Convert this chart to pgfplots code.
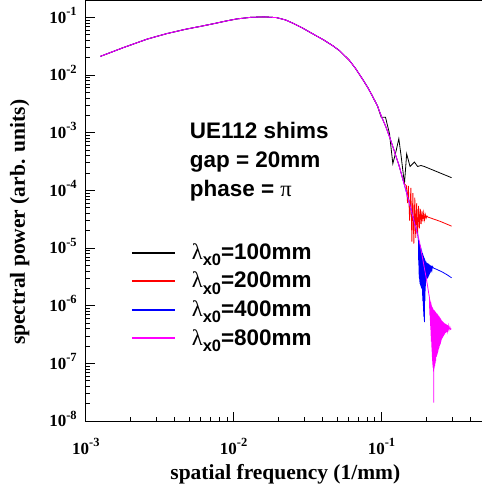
\documentclass[border=0pt]{standalone}
\usepackage{pgfplots}
\pgfplotsset{compat=1.18}
\usepackage{fontspec}
\setmainfont{Liberation Serif}
\newfontfamily\hv{Liberation Sans}
\definecolor{mag}{RGB}{255,0,255}
\definecolor{blu}{RGB}{0,0,255}
\definecolor{rd}{RGB}{255,0,0}
\newcommand{\tl}[1]{10\raisebox{0.45em}{\fontsize{12.5}{12.5}\selectfont #1}}
\newcommand{\lam}[1]{{\rmfamily\mdseries λ}\raisebox{-0.28em}{\fontsize{16.5}{16.5}\selectfont x0}=#1}
\begin{document}
\begin{tikzpicture}
\begin{axis}[name=ax,
  xmode=log, ymode=log,
  scale only axis, width=399.5pt, height=421.7pt,
  xmin=1e-3, xmax=0.5, ymin=1e-8, ymax=0.2,
  axis line style={line width=1.2pt, black},
  xtick={1e-3,1e-2,1e-1},
  xticklabels={\tl{-3},\tl{-2},\tl{-1}},
  ytick={1e-8,1e-7,1e-6,1e-5,1e-4,1e-3,1e-2,1e-1},
  yticklabels={\tl{-8},\tl{-7},\tl{-6},\tl{-5},\tl{-4},\tl{-3},\tl{-2},\tl{-1}},
  minor xtick={0.002,0.003,0.004,0.005,0.006,0.007,0.008,0.009,0.02,0.03,0.04,0.05,0.06,0.07,0.08,0.09,0.2,0.3,0.4},
  minor ytick={2e-8,3e-8,4e-8,5e-8,6e-8,7e-8,8e-8,9e-8,2e-7,3e-7,4e-7,5e-7,6e-7,7e-7,8e-7,9e-7,2e-6,3e-6,4e-6,5e-6,6e-6,7e-6,8e-6,9e-6,2e-5,3e-5,4e-5,5e-5,6e-5,7e-5,8e-5,9e-5,2e-4,3e-4,4e-4,5e-4,6e-4,7e-4,8e-4,9e-4,2e-3,3e-3,4e-3,5e-3,6e-3,7e-3,8e-3,9e-3,2e-2,3e-2,4e-2,5e-2,6e-2,7e-2,8e-2,9e-2},
  tick align=inside, xtick pos=bottom, ytick pos=left,
  major tick length=9pt, minor tick length=4.5pt,
  tick style={line width=0.8pt, black},
  tick label style={font=\fontsize{17}{17}\selectfont\bfseries, inner sep=0pt},
  xticklabel style={anchor=base, yshift=-33pt},
  yticklabel style={anchor=base east, xshift=-9pt, yshift=-5.7pt},
  xlabel={spatial frequency (1/mm)},
  ylabel={spectral power (arb. units)},
  label style={font=\fontsize{21.5}{21.5}\selectfont\bfseries},
  xlabel style={at={(axis description cs:0.5,0)}, anchor=base, yshift=-58pt},
  ylabel style={at={(axis description cs:-0.153,0.472)}, anchor=base},
  legend style={at={(rel axis cs:0.1126,0.423)}, anchor=north west, draw=none, fill=none,
    inner sep=0pt, row sep=0pt, column sep=16pt,
    font=\hv\bfseries\fontsize{22.5}{22.5}\selectfont,
    nodes={inner sep=0pt, text height=16pt, text depth=12.7pt}},
  legend cell align=left,
  legend image code/.code={\draw[#1, line width=2pt] (0pt,5pt) -- (43pt,5pt);},
  every axis plot/.append style={line width=0.8pt},
]
\addplot[black] coordinates {(0.00125,0.021)(0.0018,0.030)(0.0026,0.042)(0.0035,0.052)(0.0047,0.062)(0.006,0.070)(0.0072,0.077)(0.0088,0.086)(0.0105,0.094)(0.013,0.100)(0.016,0.102)(0.0195,0.099)(0.0225,0.090)(0.0252,0.079)(0.029,0.066)(0.0342,0.052)(0.041,0.040)(0.047,0.032)(0.052,0.0265)(0.0608,0.0178)(0.067,0.0128)(0.0744,0.0085)(0.081,0.0060)(0.0873,0.0042)(0.094,0.0029)
(0.0995,0.00186)(0.1064,0.00186)(0.1133,0.00096)(0.1193,0.00029)(0.1257,0.00049)(0.131,0.00079)(0.136,0.00038)(0.143,0.00013)(0.148,0.00043)(0.156,0.00026)(0.167,0.00031)(0.1755,0.00026)(0.185,0.00027)(0.1946,0.00026)(0.298,0.000166)};
\addlegendentry{\lam{100mm}}
\addplot[rd] coordinates {(0.00125,0.021)(0.0018,0.030)(0.0026,0.042)(0.0035,0.052)(0.0047,0.062)(0.006,0.070)(0.0072,0.077)(0.0088,0.086)(0.0105,0.094)(0.013,0.100)(0.016,0.102)(0.0195,0.099)(0.0225,0.090)(0.0252,0.079)(0.029,0.066)(0.0342,0.052)(0.041,0.040)(0.047,0.032)(0.052,0.0265)(0.0608,0.0178)(0.067,0.0128)(0.0744,0.0085)(0.081,0.0060)(0.0873,0.0042)(0.094,0.0029)(0.1,0.0019)(0.1066,0.0013)(0.1133,0.00085)(0.120,0.00055)(0.1257,0.00038)(0.132,0.00026)(0.139,0.00016)
(0.143,0.00013)(0.1475,0.00012)(0.150,0.00006)(0.152,0.00012)(0.155,0.00003)(0.158,0.00011)(0.1605,0.000013)(0.163,0.00009)(0.1655,0.000012)(0.168,0.000075)(0.1705,0.000015)(0.173,0.00006)(0.1755,0.000017)(0.178,0.000054)(0.1805,0.000022)(0.183,0.000048)(0.1855,0.000026)(0.188,0.000044)(0.1905,0.000029)(0.193,0.000041)(0.1955,0.000031)(0.198,0.000038)(0.2005,0.000033)(0.203,0.000036)(0.206,0.0000345)(0.25,0.000029)(0.298,0.000024)};
\addlegendentry{\lam{200mm}}
\addplot[blu] coordinates {(0.00125,0.021)(0.0018,0.030)(0.0026,0.042)(0.0035,0.052)(0.0047,0.062)(0.006,0.070)(0.0072,0.077)(0.0088,0.086)(0.0105,0.094)(0.013,0.100)(0.016,0.102)(0.0195,0.099)(0.0225,0.090)(0.0252,0.079)(0.029,0.066)(0.0342,0.052)(0.041,0.040)(0.047,0.032)(0.052,0.0265)(0.0608,0.0178)(0.067,0.0128)(0.0744,0.0085)(0.081,0.0060)(0.0873,0.0042)(0.094,0.0029)(0.1,0.0019)(0.1066,0.0013)(0.1133,0.00085)(0.120,0.00055)(0.1257,0.00038)(0.132,0.00026)(0.139,0.00016)(0.148,0.000090)(0.158,0.000048)(0.168,0.000026)(0.176,0.000017)
(0.178,1.3e-5)(0.1785,5e-6)(0.179,1.28e-5)(0.1795,3.5e-6)(0.180,1.25e-5)(0.1805,2.9e-6)(0.181,1.2e-5)(0.1815,2.6e-6)(0.182,1.15e-5)(0.1825,2.4e-6)(0.183,1.1e-5)(0.1835,2.3e-6)(0.184,1.05e-5)(0.1845,2.2e-6)(0.185,1.0e-5)(0.1855,2.1e-6)(0.186,9.5e-6)(0.1865,2.0e-6)(0.187,9e-6)(0.1875,2.0e-6)(0.188,8.6e-6)(0.1885,1.9e-6)(0.189,8.2e-6)(0.1895,1.5e-6)(0.190,7.9e-6)(0.1905,1.2e-6)(0.191,7.6e-6)(0.1915,1.0e-6)(0.192,7.3e-6)(0.1925,8e-7)(0.193,7.0e-6)(0.1935,6.5e-7)(0.194,6.8e-6)(0.1945,5.5e-7)(0.195,6.6e-6)(0.1955,5.2e-7)(0.196,6.4e-6)(0.1965,1.2e-6)(0.197,6.2e-6)(0.1975,1.8e-6)(0.198,6.0e-6)(0.1985,2.2e-6)(0.199,5.9e-6)(0.1995,2.5e-6)(0.200,5.8e-6)(0.201,2.7e-6)(0.202,5.6e-6)(0.203,2.9e-6)(0.204,5.5e-6)(0.205,3.0e-6)(0.206,5.4e-6)(0.207,3.1e-6)(0.208,5.3e-6)(0.209,3.3e-6)(0.210,5.2e-6)(0.211,3.5e-6)(0.212,5.1e-6)(0.2135,3.7e-6)(0.215,5.0e-6)(0.2165,3.9e-6)(0.218,4.9e-6)(0.2195,4.2e-6)(0.221,4.8e-6)(0.225,4.5e-6)(0.24,4.2e-6)(0.26,3.8e-6)(0.28,3.4e-6)(0.298,3.05e-6)};
\addlegendentry{\lam{400mm}}
\addplot[mag] coordinates {(0.00125,0.021)(0.0018,0.030)(0.0026,0.042)(0.0035,0.052)(0.0047,0.062)(0.006,0.070)(0.0072,0.077)(0.0088,0.086)(0.0105,0.094)(0.013,0.100)(0.016,0.102)(0.0195,0.099)(0.0225,0.090)(0.0252,0.079)(0.029,0.066)(0.0342,0.052)(0.041,0.040)(0.047,0.032)(0.052,0.0265)(0.0608,0.0178)(0.067,0.0128)(0.0744,0.0085)(0.081,0.0060)(0.0873,0.0042)(0.094,0.0029)(0.1,0.0019)(0.1066,0.0013)(0.1133,0.00085)(0.120,0.00055)(0.1257,0.00038)(0.132,0.00026)(0.139,0.00016)(0.148,0.000090)(0.158,0.000048)(0.168,0.000026)(0.180,0.0000135)(0.190,0.0000065)(0.195,0.0000045)(0.200,0.0000032)(0.205,0.0000022)(0.209,0.0000016)
(0.2110,1.4e-6)(0.2115,9e-7)(0.2120,1.3e-6)(0.2125,7e-7)(0.2130,1.25e-6)(0.2135,5.5e-7)(0.2140,1.2e-6)(0.2145,4.5e-7)(0.2150,1.15e-6)(0.2155,3.8e-7)(0.2160,1.1e-6)(0.2165,3e-7)(0.2170,1.05e-6)(0.2175,2.4e-7)(0.2180,1.0e-6)(0.2185,1.9e-7)(0.2190,9.8e-7)(0.2195,1.6e-7)(0.2200,9.5e-7)(0.2205,1.3e-7)(0.2210,9.2e-7)(0.2215,1.1e-7)(0.2220,9e-7)(0.2225,9.5e-8)(0.2230,8.8e-7)(0.2235,8.5e-8)(0.2240,8.6e-7)(0.2245,8e-8)(0.2250,8.5e-7)(0.2255,2.1e-8)(0.2260,8.4e-7)(0.2265,8e-8)(0.2270,8.3e-7)(0.2275,8.5e-8)(0.2280,8.2e-7)(0.2290,9e-8)(0.2300,8e-7)(0.2310,1.0e-7)(0.2320,7.8e-7)(0.2330,1.1e-7)(0.2340,7.6e-7)(0.2350,1.3e-7)(0.2360,7.4e-7)(0.2370,1.4e-7)(0.2380,7.2e-7)(0.2390,1.5e-7)(0.2400,7e-7)(0.2410,1.6e-7)(0.2420,6.8e-7)(0.2430,1.75e-7)(0.2440,6.6e-7)(0.2450,1.85e-7)(0.2460,6.5e-7)(0.2470,2.0e-7)(0.2480,6.3e-7)(0.2490,2.1e-7)(0.2500,6.1e-7)(0.2510,2.2e-7)(0.2520,5.9e-7)(0.2530,2.4e-7)(0.2540,5.7e-7)(0.2550,2.6e-7)(0.2560,5.5e-7)(0.2570,2.7e-7)(0.2580,5.4e-7)(0.2590,2.8e-7)(0.2600,5.3e-7)(0.2610,2.9e-7)(0.2620,5.2e-7)(0.2630,3.0e-7)(0.2640,5.1e-7)(0.2650,3.1e-7)(0.2660,5.0e-7)(0.2680,3.2e-7)(0.2700,4.9e-7)(0.2720,3.4e-7)(0.2740,4.8e-7)(0.2760,3.5e-7)(0.2780,4.6e-7)(0.2800,3.7e-7)(0.2830,4.5e-7)(0.2860,3.8e-7)(0.2900,4.3e-7)(0.2930,3.9e-7)(0.2970,4.0e-7)};
\addlegendentry{\lam{800mm}}
\node[anchor=base west, font=\hv\bfseries\fontsize{22.5}{22.5}\selectfont, inner sep=0pt] at (rel axis cs:0.2603,0.6712) {UE112 shims};
\node[anchor=base west, font=\hv\bfseries\fontsize{22.5}{22.5}\selectfont, inner sep=0pt] at (rel axis cs:0.2603,0.6024) {gap = 20mm};
\node[anchor=base west, font=\hv\bfseries\fontsize{22.5}{22.5}\selectfont, inner sep=0pt] at (rel axis cs:0.2603,0.5336) {phase = {\rmfamily\mdseries π}};
\end{axis}
\pgfresetboundingbox
\path[use as bounding box] ([xshift=-86pt,yshift=-72pt]ax.south west) rectangle ([xshift=396pt]ax.north west);
\end{tikzpicture}
\end{document}
